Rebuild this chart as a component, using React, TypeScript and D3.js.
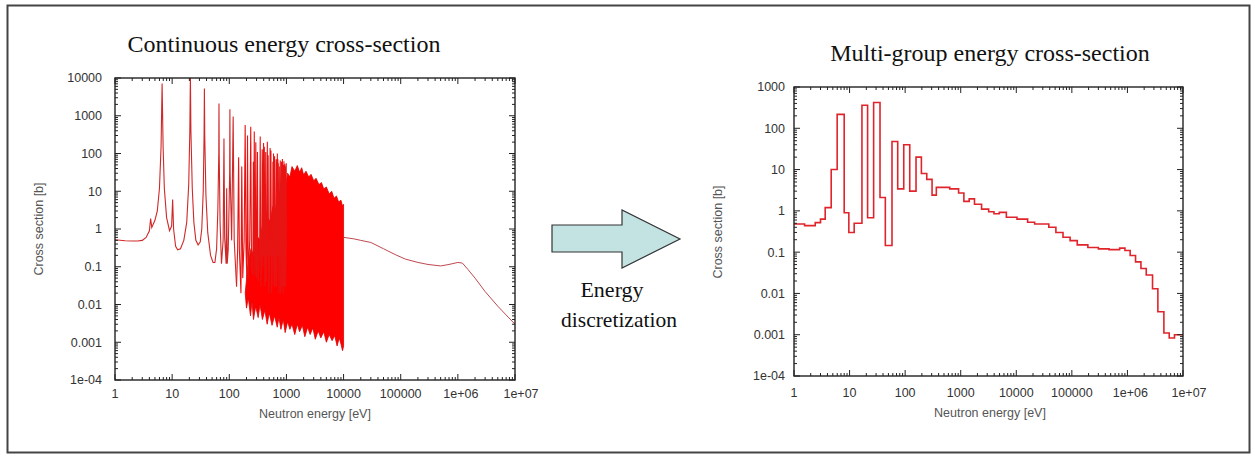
import React from 'react'
import * as d3 from 'd3'

const width = 1255
const height = 457

// left panel, continuous energy cross-section: [energy eV, cross-section b]
const lowCurve: [number, number][] = [
    [1, 0.52], [1.5, 0.49], [2, 0.48], [2.5, 0.48], [3, 0.5], [3.5, 0.6], [4, 0.9], [4.2, 1.9],
    [4.4, 1.1], [5, 1.7], [5.5, 3], [6, 12], [6.4, 150], [6.67, 7200], [6.95, 150], [7.3, 12],
    [8, 2], [9, 0.9], [9.8, 1.2], [10.2, 6], [10.6, 1], [11.5, 0.35], [12.5, 0.28], [14, 0.3],
    [16, 0.5], [18, 1.5], [19.5, 15], [20.4, 400], [20.87, 12000], [21.3, 400], [22.5, 12],
    [24, 1.5], [26, 0.5], [28.5, 0.38], [31, 0.45], [33, 1], [35, 10], [36.2, 300], [36.68, 5300],
    [37.2, 300], [39, 8], [42, 0.8], [47, 0.2], [52, 0.13], [56, 0.13], [60, 0.3], [63, 3],
    [65.5, 100], [66, 2100], [66.6, 100], [69, 1.5], [73, 0.12], [78, 0.5], [80.7, 250], [83, 0.6],
    [88, 0.12], [90, 12], [92, 0.12], [96, 0.3], [101.5, 30], [102.5, 1480], [103.5, 30], [110, 0.5],
    [116.9, 950], [122, 0.5], [134, 0.03],
]

// resolved resonances between ~140 eV and 1 keV (troughs and peaks)
const resolvedCurve: [number, number][] = [
    [134, 0.03], [140, 0.3], [145.7, 80], [150, 0.3], [160, 0.02], [165.3, 45], [172, 0.05],
    [182, 0.5], [189.7, 570], [196, 0.3], [203, 0.05], [208.5, 300], [215, 0.05], [228, 0.5],
    [237.4, 510], [245, 0.1], [258, 0.06], [264, 60], [268, 0.2], [273.7, 380], [280, 0.06],
    [286, 0.3], [291, 200], [298, 0.05], [306, 0.3], [311.3, 110], [318, 0.04], [340, 0.3],
    [347.8, 280], [356, 0.03], [370, 0.3], [376.9, 130], [385, 0.1], [397.6, 190], [403, 0.2],
    [410.3, 150], [420, 0.03], [428, 0.3], [433.9, 110], [442, 0.04], [455, 0.3], [463.1, 206],
    [470, 0.2], [478.4, 90], [490, 0.02], [510, 0.3], [518.4, 140], [526, 0.2], [535.4, 120],
    [550, 0.02], [572, 0.3], [580.2, 60], [587, 0.2], [594.9, 100], [605, 0.03], [612, 0.2],
    [619.9, 85], [635, 0.03], [652, 0.3], [661.2, 70], [672, 0.03], [685, 0.3], [693.1, 100],
    [700, 0.3], [708.4, 70], [714, 0.2], [721.6, 55], [740, 0.02], [755, 0.3], [760.9, 45],
    [770, 0.2], [780.9, 65], [800, 0.02], [815, 0.3], [821.6, 60], [835, 0.03], [845, 0.3],
    [850.6, 72], [858, 0.2], [866.4, 50], [880, 0.02], [898, 0.3], [905, 62], [920, 0.03],
    [930, 0.3], [936.4, 52], [948, 0.2], [958.8, 45], [975, 0.03], [985, 0.3], [991.5, 55], [1000, 0.3],
]

// unresolved forest: upper and lower edge of the dense band
const forestTop: [number, number][] = [
    [190, 0.02], [210, 0.1], [240, 0.3], [270, 0.2], [300, 0.7], [340, 0.5], [380, 1.2], [420, 0.9],
    [470, 2], [520, 1.6], [580, 4], [640, 3], [700, 7], [780, 5.5], [860, 13], [950, 11], [1050, 30],
    [1150, 24], [1250, 45], [1400, 34], [1550, 48], [1700, 32], [1850, 42], [2000, 27], [2200, 34],
    [2450, 24], [2700, 28], [3000, 19], [3300, 22], [3700, 15], [4100, 17], [4500, 11.5], [5000, 13],
    [5600, 8.5], [6200, 10], [6800, 6.5], [7500, 7.5], [8200, 5.2], [9000, 5.8], [9600, 4], [10000, 4.5],
]
const forestBottom: [number, number][] = [
    [190, 0.02], [200, 0.008], [215, 0.015], [235, 0.005], [250, 0.012], [265, 0.004], [290, 0.009],
    [320, 0.0045], [345, 0.01], [380, 0.004], [420, 0.007], [460, 0.003], [500, 0.006], [560, 0.0028],
    [620, 0.005], [690, 0.0025], [740, 0.0045], [800, 0.0022], [880, 0.004], [950, 0.0018],
    [1050, 0.0035], [1150, 0.0022], [1250, 0.003], [1400, 0.0016], [1550, 0.003], [1700, 0.0019],
    [1900, 0.0028], [2100, 0.0014], [2350, 0.0025], [2600, 0.0016], [2900, 0.0024], [3200, 0.0012],
    [3600, 0.002], [4000, 0.0013], [4500, 0.0019], [5000, 0.001], [5600, 0.0016], [6300, 0.0011],
    [7000, 0.0015], [7700, 0.0008], [8400, 0.0013], [9000, 0.0009], [9600, 0.0006], [10000, 0.0008],
]

// smooth fast range
const fastCurve: [number, number][] = [
    [10000, 0.6], [15000, 0.55], [20000, 0.5], [30000, 0.44], [50000, 0.3], [80000, 0.21],
    [120000, 0.16], [200000, 0.13], [300000, 0.115], [500000, 0.105], [700000, 0.115],
    [1000000, 0.13], [1200000, 0.125], [1500000, 0.085], [2000000, 0.05], [3000000, 0.022],
    [5000000, 0.009], [10000000, 0.003],
]

// right panel, multi-group: group boundaries (eV) and group cross-sections (b)
const groupBounds = [
    1, 1.55, 2.41, 3.0, 3.64, 4.67, 5.98, 8.0, 9.7, 12.1, 16.7, 21.1, 27.1, 35.3, 44, 58, 73.5, 94.4,
    121, 157, 196, 245, 305, 364, 635, 916, 1140, 1420, 1770, 2375, 3185, 3970, 4945, 6630, 10300,
    16000, 21400, 38500, 51600, 69300, 93000, 125000, 194000, 300000, 467000, 724000, 902000,
    1.12e6, 1.4e6, 1.75e6, 2.18e6, 2.83e6, 3.53e6, 4.53e6, 5.65e6, 7.03e6, 1e7,
]
const groupXs = [
    0.48, 0.44, 0.52, 0.63, 1.2, 10, 217, 0.9, 0.3, 0.5, 360, 0.68, 420, 2.1, 0.145, 48, 3.4, 40,
    3.0, 20, 8, 5.8, 2.4, 3.7, 3.4, 2.7, 1.7, 1.95, 1.45, 1.1, 0.95, 0.85, 0.92, 0.7, 0.63, 0.53,
    0.48, 0.4, 0.3, 0.23, 0.19, 0.15, 0.13, 0.12, 0.115, 0.125, 0.11, 0.083, 0.058, 0.04, 0.028,
    0.013, 0.0036, 0.0011, 0.00083, 0.001,
]

const energyTicks = [1, 10, 100, 1000, 10000, 100000, 1e6, 1e7]
const energyLabels = ['1', '10', '100', '1000', '10000', '100000', '1e+06', '1e+07']
const leftXsTicks = [1e-4, 1e-3, 1e-2, 0.1, 1, 10, 100, 1000, 10000]
const leftXsLabels = ['1e-04', '0.001', '0.01', '0.1', '1', '10', '100', '1000', '10000']
const rightXsTicks = [1e-4, 1e-3, 1e-2, 0.1, 1, 10, 100, 1000]
const rightXsLabels = ['1e-04', '0.001', '0.01', '0.1', '1', '10', '100', '1000']

const sans = '"Liberation Sans", Arial, sans-serif'
const serif = '"Liberation Serif", "Times New Roman", serif'

function Frame({ x, y, xTicks, xLabels, yTicks, yLabels, xLabelY, yLabelGap }) {
    const [xa, xb] = x.range()
    const [ya, yb] = y.range()
    const minorX = xTicks.slice(0, -1).flatMap(t => d3.range(2, 10).map(k => t * k))
    const minorY = yTicks.slice(0, -1).flatMap(t => d3.range(2, 10).map(k => t * k))
    const tick = { stroke: '#222', strokeWidth: 1 }
    return (
        <g>
            {minorX.map((t, i) => (
                <g key={'mx' + i} {...tick}>
                    <line x1={x(t)} x2={x(t)} y1={ya} y2={ya - 3} />
                    <line x1={x(t)} x2={x(t)} y1={yb} y2={yb + 3} />
                </g>
            ))}
            {minorY.map((t, i) => (
                <g key={'my' + i} {...tick}>
                    <line x1={xa} x2={xa + 3} y1={y(t)} y2={y(t)} />
                    <line x1={xb} x2={xb - 3} y1={y(t)} y2={y(t)} />
                </g>
            ))}
            {xTicks.map((t, i) => (
                <g key={'x' + i}>
                    <line {...tick} x1={x(t)} x2={x(t)} y1={ya} y2={ya - 6} />
                    <line {...tick} x1={x(t)} x2={x(t)} y1={yb} y2={yb + 6} />
                    <text x={x(t) + (i >= xTicks.length - 2 ? (i - xTicks.length + 3) * 3 : 0)} y={xLabelY}
                        textAnchor="middle" fontFamily={sans} fontSize={12.5} fill="#333">
                        {xLabels[i]}
                    </text>
                </g>
            ))}
            {yTicks.map((t, i) => (
                <g key={'y' + i}>
                    <line {...tick} x1={xa} x2={xa + 6} y1={y(t)} y2={y(t)} />
                    <line {...tick} x1={xb} x2={xb - 6} y1={y(t)} y2={y(t)} />
                    <text x={xa - yLabelGap} y={y(t)} dy="0.35em" textAnchor="end" fontFamily={sans} fontSize={12.5} fill="#333">
                        {yLabels[i]}
                    </text>
                </g>
            ))}
            <rect x={xa} y={yb} width={xb - xa} height={ya - yb} fill="none" stroke="#222" strokeWidth={1.4} />
        </g>
    )
}

export default function App() {
    const lx = d3.scaleLog().domain([1, 1e7]).range([115, 515])
    const ly = d3.scaleLog().domain([1e-4, 1e4]).range([380, 78])
    const rx = d3.scaleLog().domain([1, 1e7]).range([794, 1183])
    const ry = d3.scaleLog().domain([1e-4, 1e3]).range([376, 87])

    const leftLine = d3.line<[number, number]>().x(d => lx(d[0])).y(d => ly(d[1]))
    const forestPath = leftLine([...forestTop, ...forestBottom.slice().reverse()]) + 'Z'

    const steps: [number, number][] = groupXs.map((v, i) => [groupBounds[i], v] as [number, number])
    steps.push([groupBounds[groupBounds.length - 1], groupXs[groupXs.length - 1]])
    const stepLine = d3.line<[number, number]>().x(d => rx(d[0])).y(d => ry(d[1])).curve(d3.curveStepAfter)

    return (
        <svg width={width} height={height} style={{ position: 'absolute', left: 0, top: 0, background: '#fff' }}>
            <defs>
                <clipPath id="clipL"><rect x={115} y={78} width={400} height={302} /></clipPath>
                <clipPath id="clipR"><rect x={794} y={87} width={389} height={289} /></clipPath>
            </defs>
            <rect x={7.5} y={5.5} width={1242} height={447} fill="#fff" stroke="#444" strokeWidth={2} />

            {/* left panel */}
            <text x={284} y={52} textAnchor="middle" fontFamily={serif} fontSize={24} fill="#111">
                Continuous energy cross-section
            </text>
            <g clipPath="url(#clipL)">
                <path d={forestPath} fill="#ff0000" stroke="#e00000" strokeWidth={0.8} />
                <path d={leftLine(resolvedCurve)} fill="none" stroke="#e81414" strokeWidth={1.1} />
                <path d={leftLine(lowCurve)} fill="none" stroke="#d02828" strokeWidth={1.1} />
                <path d={leftLine(fastCurve)} fill="none" stroke="#c04850" strokeWidth={1} />
            </g>
            <Frame x={lx} y={ly} xTicks={energyTicks} xLabels={energyLabels}
                yTicks={leftXsTicks} yLabels={leftXsLabels} xLabelY={398} yLabelGap={13} />
            <text x={315} y={418} textAnchor="middle" fontFamily={sans} fontSize={12.5} fill="#555">
                Neutron energy [eV]
            </text>
            <text transform="translate(43,229) rotate(-90)" textAnchor="middle" fontFamily={sans} fontSize={12.5} fill="#555">
                Cross section [b]
            </text>

            {/* arrow */}
            <polygon points="552,225 622,225 622,210 680,239 622,268 622,252 552,252"
                fill="#c3e3e3" stroke="#333" strokeWidth={1.2} />
            <text x={612} y={297} textAnchor="middle" fontFamily={serif} fontSize={22} fill="#111">Energy</text>
            <text x={619} y={327} textAnchor="middle" fontFamily={serif} fontSize={21.5} fill="#111">discretization</text>

            {/* right panel */}
            <text x={990} y={61} textAnchor="middle" fontFamily={serif} fontSize={24} fill="#111">
                Multi-group energy cross-section
            </text>
            <g clipPath="url(#clipR)">
                <path d={stepLine(steps)} fill="none" stroke="#e0242c" strokeWidth={1.6} />
            </g>
            <Frame x={rx} y={ry} xTicks={energyTicks} xLabels={energyLabels}
                yTicks={rightXsTicks} yLabels={rightXsLabels} xLabelY={397} yLabelGap={9} />
            <text x={990} y={417} textAnchor="middle" fontFamily={sans} fontSize={12.5} fill="#555">
                Neutron energy [eV]
            </text>
            <text transform="translate(722,232) rotate(-90)" textAnchor="middle" fontFamily={sans} fontSize={12.5} fill="#555">
                Cross section [b]
            </text>
        </svg>
    )
}
